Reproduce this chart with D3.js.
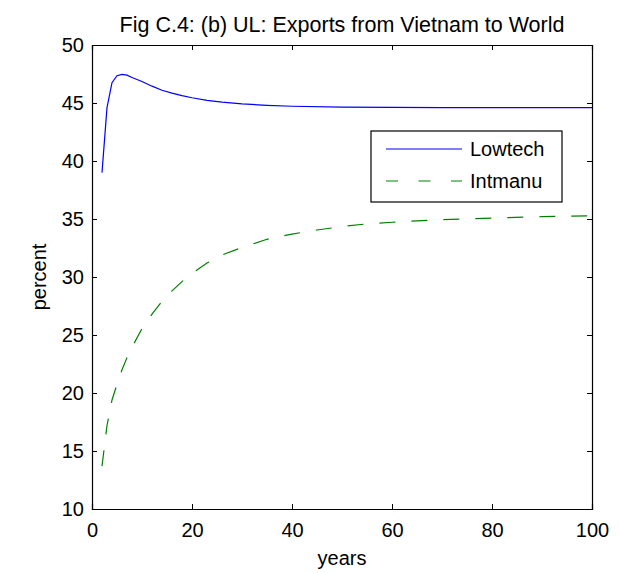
<!DOCTYPE html>
<html>
<head>
<meta charset="utf-8">
<script src="https://cdn.jsdelivr.net/npm/d3@7"></script>
<style>
  html, body { margin: 0; padding: 0; background: #fff; }
  svg { display: block; font-family: "Liberation Sans", Arial, sans-serif; }
</style>
</head>
<body>
<svg id="chart" width="620" height="573"></svg>
<script>
const title = "Fig C.4: (b) UL: Exports from Vietnam to World";
const xLabel = "years";
const yLabel = "percent";
const xTicks = [0, 20, 40, 60, 80, 100];
const yTicks = [10, 15, 20, 25, 30, 35, 40, 45, 50];
const seriesNames = ["Lowtech", "Intmanu"];

const lowtechYears = [2, 3, 4, 5, 6, 7, 8, 10, 12, 14, 16, 18, 20, 23, 26, 30, 35, 40, 50, 60, 70, 80, 90, 100];
const lowtechValues = [39.0, 44.6, 46.75, 47.35, 47.47, 47.4, 47.2, 46.85, 46.45, 46.1, 45.85, 45.63, 45.45, 45.23, 45.07, 44.92, 44.8, 44.72, 44.65, 44.62, 44.6, 44.6, 44.6, 44.6];

const intmanuYears = [2, 3, 4, 5, 6, 7, 8, 10, 12, 14, 16, 18, 20, 23, 26, 30, 35, 40, 45, 50, 55, 60, 70, 80, 90, 100];
const intmanuValues = [13.7, 17.2, 19.4, 20.75, 22.0, 23.05, 23.95, 25.55, 26.8, 27.9, 28.8, 29.6, 30.3, 31.2, 31.9, 32.55, 33.25, 33.7, 34.05, 34.35, 34.58, 34.72, 34.95, 35.08, 35.2, 35.27];

const svg = d3.select("#chart");
const m = { left: 92, right: 592, top: 45, bottom: 509 };
const x = d3.scaleLinear().domain([0, 100]).range([m.left, m.right]);
const y = d3.scaleLinear().domain([10, 50]).range([m.bottom, m.top]);
const fs = 20;
const tickLen = 5;

// axes (MATLAB box with inward ticks on all sides)
const gB = svg.append("g").attr("transform", `translate(0,${m.bottom})`)
  .call(d3.axisBottom(x).tickValues(xTicks).tickSize(-tickLen).tickPadding(14).tickFormat(d3.format("d")));
const gT = svg.append("g").attr("transform", `translate(0,${m.top})`)
  .call(d3.axisTop(x).tickValues(xTicks).tickSize(-tickLen).tickFormat(""));
const gL = svg.append("g").attr("transform", `translate(${m.left},0)`)
  .call(d3.axisLeft(y).tickValues(yTicks).tickSize(-tickLen).tickPadding(8).tickFormat(d3.format("d")));
const gR = svg.append("g").attr("transform", `translate(${m.right},0)`)
  .call(d3.axisRight(y).tickValues(yTicks).tickSize(-tickLen).tickFormat(""));
[gB, gT, gL, gR].forEach(g => {
  g.selectAll("path.domain").attr("stroke", "#000").attr("stroke-width", 1.2);
  g.selectAll(".tick line").attr("stroke", "#000").attr("stroke-width", 1);
  g.selectAll(".tick text").attr("fill", "#000").style("font-size", fs + "px")
    .style("font-family", '"Liberation Sans", Arial, sans-serif');
});

const line = d3.line().x(d => x(d[0])).y(d => y(d[1]));
const lowData = lowtechYears.map((yr, i) => [yr, lowtechValues[i]]);
const intData = intmanuYears.map((yr, i) => [yr, intmanuValues[i]]);

svg.append("path").datum(lowData).attr("d", line)
  .attr("fill", "none").attr("stroke", "#0000ff").attr("stroke-width", 1.2);
svg.append("path").datum(intData).attr("d", line)
  .attr("fill", "none").attr("stroke", "#008000").attr("stroke-width", 1.2)
  .attr("stroke-dasharray", "16,16");

// title and labels
svg.append("text").attr("x", (m.left + m.right) / 2).attr("y", 32)
  .attr("text-anchor", "middle").style("font-size", "21.5px").text(title);
svg.append("text").attr("x", (m.left + m.right) / 2).attr("y", 565)
  .attr("text-anchor", "middle").style("font-size", fs + "px").text(xLabel);
svg.append("text").attr("transform", `translate(46,${(m.top + m.bottom) / 2}) rotate(-90)`)
  .attr("text-anchor", "middle").style("font-size", fs + "px").text(yLabel);

// legend
const lg = svg.append("g");
lg.append("rect").attr("x", 371).attr("y", 131).attr("width", 191).attr("height", 71)
  .attr("fill", "#fff").attr("stroke", "#000").attr("stroke-width", 1.2);
const legY = [149, 181];
const legStroke = ["#0000ff", "#008000"];
const legDash = [null, "12,20.5"];
seriesNames.forEach((name, i) => {
  lg.append("line").attr("x1", 386).attr("x2", 462).attr("y1", legY[i]).attr("y2", legY[i])
    .attr("stroke", legStroke[i]).attr("stroke-width", 1.2).attr("stroke-dasharray", legDash[i]);
  lg.append("text").attr("x", 470).attr("y", legY[i]).attr("dy", "0.35em")
    .style("font-size", fs + "px").text(name);
});
</script>
</body>
</html>
